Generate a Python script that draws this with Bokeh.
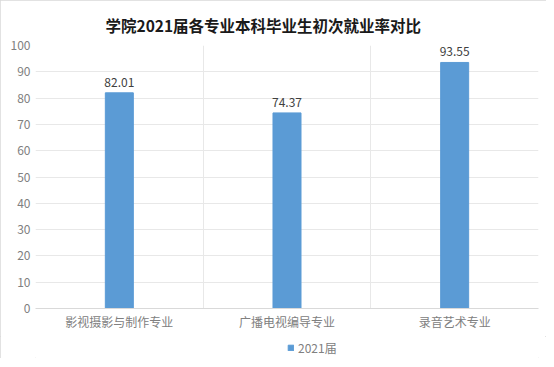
from bokeh.plotting import figure
from bokeh.layouts import column
from bokeh.models import (ColumnDataSource, FactorRange, Range1d, FixedTicker,
                          Legend, LegendItem)
from bokeh.core.properties import value
from bokeh.embed import file_html
from bokeh.resources import INLINE

title_text = "学院2021届各专业本科毕业生初次就业率对比"
categories = ["影视摄影与制作专业", "广播电视编导专业", "录音艺术专业"]
rates = [82.01, 74.37, 93.55]
series_name = "2021届"
y_ticks = [0, 10, 20, 30, 40, 50, 60, 70, 80, 90, 100]

BAR = "#5b9bd5"
FONT = "Noto Sans CJK SC"

src = ColumnDataSource(dict(cat=categories, val=rates,
                            lab=["%.2f" % v for v in rates]))

p = figure(frame_width=503, frame_height=263, output_backend="svg",
           toolbar_location=None,
           x_range=FactorRange(*categories, range_padding=0),
           y_range=Range1d(0, 100),
           min_border_left=35, min_border_right=8,
           min_border_top=45, min_border_bottom=28)

p.title.text = title_text
p.title.align = "left"
p.title.offset = 70
p.title.text_font = FONT
p.title.text_font_size = "15.5px"
p.title.text_font_style = "bold"
p.title.text_color = "#1a1a1a"
p.title.standoff = 20

p.outline_line_color = None
p.background_fill_color = "white"
p.border_fill_color = "white"

r = p.vbar(x="cat", top="val", width=0.167, source=src,
           fill_color=BAR, line_color=BAR)

p.text(x="cat", y="val", text="lab", source=src,
       text_font=value(FONT), text_font_size="12px", text_color="#404040",
       text_align="center", text_baseline="bottom", y_offset=-6)

# grids
p.ygrid.ticker = FixedTicker(ticks=y_ticks)
p.ygrid.grid_line_color = "#e8e8e8"
p.xgrid.ticker = FixedTicker(ticks=[0, 1, 2, 3])
p.xgrid.grid_line_color = "#e8e8e8"

# y axis
p.yaxis.ticker = FixedTicker(ticks=y_ticks)
p.yaxis.axis_line_color = None
p.yaxis.major_tick_line_color = None
p.yaxis.minor_tick_line_color = None
p.yaxis.major_tick_out = 0
p.yaxis.major_tick_in = 0
p.yaxis.major_label_standoff = 5
p.yaxis.major_label_text_font = FONT
p.yaxis.major_label_text_font_size = "12px"
p.yaxis.major_label_text_color = "#808080"

# x axis
p.xaxis.axis_line_color = "#d9d9d9"
p.xaxis.major_tick_line_color = None
p.xaxis.minor_tick_line_color = None
p.xaxis.major_tick_out = 0
p.xaxis.major_tick_in = 0
p.xaxis.major_label_standoff = 4
p.xaxis.major_label_text_font = FONT
p.xaxis.major_label_text_font_size = "12px"
p.xaxis.major_label_text_color = "#808080"

# legend strip below the chart (same series, drawn out of view so only
# its legend entry shows)
lp = figure(width=546, height=22, output_backend="svg", toolbar_location=None,
            x_range=FactorRange(*categories), y_range=Range1d(200, 300),
            min_border=0, min_border_left=0, min_border_right=0,
            min_border_top=0, min_border_bottom=0)
lp.outline_line_color = None
lp.axis.visible = False
lp.grid.visible = False
lp.border_fill_color = "white"
lp.background_fill_color = "white"
lr = lp.vbar(x="cat", top="val", width=0.167, source=src,
             fill_color=BAR, line_color=BAR)
legend = Legend(items=[LegendItem(label=series_name, renderers=[lr])],
                orientation="horizontal", location=(252, 2))
legend.label_text_font = FONT
legend.label_text_font_size = "12px"
legend.label_text_color = "#808080"
legend.glyph_width = 7
legend.glyph_height = 7
legend.label_height = 14
legend.label_standoff = 4
legend.border_line_color = None
legend.background_fill_alpha = 0
legend.padding = 0
legend.margin = 0
lp.add_layout(legend)

layout = column(p, lp, spacing=0)
layout.styles = {"outline": "1px solid #d9d9d9", "outline-offset": "-1px",
                 "background": "white"}

open("out.html", "w").write(file_html(layout, INLINE))
